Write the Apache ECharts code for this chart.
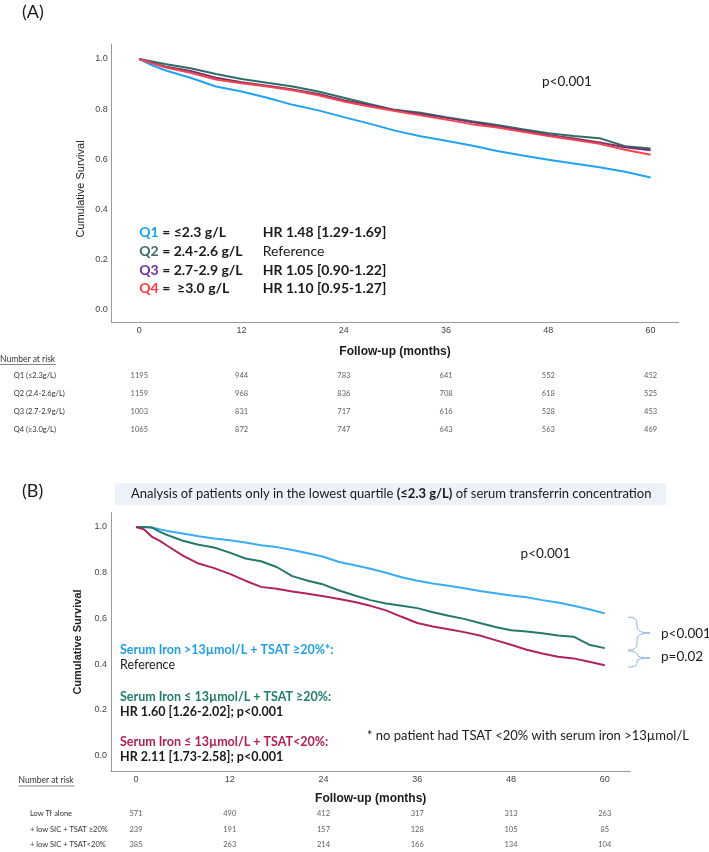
<!DOCTYPE html>
<html><head><meta charset="utf-8">
<script src="https://cdn.jsdelivr.net/npm/echarts@6.0.0/dist/echarts.min.js"></script>
<style>html,body{margin:0;padding:0;background:#fff}#c{width:709px;height:852px}</style>
</head><body><div id="c"></div>
<script>
// ---------- DATA ----------
const ticksX = [0, 12, 24, 36, 48, 60];
const ticksY = [0, 0.2, 0.4, 0.6, 0.8, 1.0];

// Panel A: survival by transferrin quartile
const timeA = [0,1.5,3,6,9,12,15,18,21,24,27,30,33,36,39,42,45,48,51,54,57,60];
const q1 = [1.0,0.975,0.955,0.925,0.89,0.87,0.845,0.817,0.795,0.768,0.742,0.714,0.692,0.674,0.655,0.633,0.615,0.598,0.583,0.568,0.55,0.527];
const q2 = [1.0,0.99,0.98,0.963,0.94,0.92,0.905,0.89,0.87,0.845,0.82,0.797,0.785,0.768,0.752,0.737,0.72,0.704,0.693,0.684,0.652,0.643];
const q3 = [1.0,0.985,0.97,0.952,0.925,0.907,0.893,0.878,0.86,0.835,0.815,0.795,0.78,0.765,0.748,0.732,0.715,0.697,0.683,0.667,0.648,0.636];
const q4 = [1.0,0.983,0.967,0.945,0.918,0.903,0.89,0.875,0.855,0.83,0.81,0.792,0.775,0.758,0.74,0.727,0.71,0.693,0.678,0.662,0.638,0.618];

const riskRowsA = ['Q1 (≤2.3g/L)', 'Q2 (2.4-2.6g/L)', 'Q3 (2.7-2.9g/L)', 'Q4 (≥3.0g/L)'];
const riskQ1 = [1195, 944, 783, 641, 552, 452];
const riskQ2 = [1159, 968, 836, 708, 618, 525];
const riskQ3 = [1003, 831, 717, 616, 528, 453];
const riskQ4 = [1065, 872, 747, 643, 563, 469];

// Panel B: lowest quartile only
const timeB = [0,1,2,3,4,6,8,10,12,14,16,18,20,22,24,26,28,30,32,34,36,38,40,42,44,46,48,50,52,54,56,58,60];
const blueB  = [1.0,1.0,0.998,0.99,0.983,0.972,0.96,0.95,0.942,0.932,0.92,0.912,0.899,0.885,0.87,0.847,0.833,0.817,0.8,0.78,0.765,0.753,0.743,0.732,0.72,0.71,0.7,0.693,0.68,0.67,0.655,0.64,0.622];
const greenB = [1.0,1.0,0.998,0.98,0.965,0.94,0.922,0.91,0.888,0.862,0.85,0.825,0.785,0.765,0.748,0.722,0.7,0.68,0.665,0.655,0.645,0.627,0.612,0.598,0.58,0.562,0.548,0.543,0.535,0.525,0.52,0.485,0.47];
const magB   = [1.0,0.99,0.958,0.94,0.918,0.875,0.84,0.82,0.795,0.765,0.738,0.73,0.718,0.708,0.697,0.685,0.672,0.655,0.635,0.607,0.58,0.565,0.553,0.54,0.525,0.505,0.485,0.463,0.446,0.432,0.425,0.41,0.395];

const riskRowsB = ['Low Tf alone', '+ low SIC + TSAT ≥20%', '+ low SIC + TSAT<20%'];
const riskLow = [571, 490, 412, 317, 313, 263];
const riskSicHi = [239, 191, 157, 128, 105, 85];
const riskSicLo = [385, 263, 214, 166, 134, 104];

// ---------- STYLE ----------
const AX = '#9a9a9a';
const CAL = 'Lato, "Open Sans", sans-serif';
const ARI = '"Liberation Sans", Arial, sans-serif';
const C = {q1:'#22a2f0', q2:'#2f6f63', q3:'#7a2f72', q4:'#f2454f',
           bB:'#3aacf2', gB:'#24796b', mB:'#b0245e',
           tq1:'#1aa0ee', tq2:'#3c6a63', tq3:'#7030a0', tq4:'#ff3b3b',
           tb:'#1e9fe6', tg:'#1f7d6c', tm:'#b01e52'};

const chart = echarts.init(document.getElementById('c'), null, {renderer:'canvas'});

function xAx(gi, min, max, show) {
  return {type:'value', gridIndex:gi, min:min, max:max, show:show,
    axisLine:{show:true, onZero:false, lineStyle:{color:AX, width:1}},
    axisTick:{show:false},
    splitLine:{show:false},
    axisLabel:{show:true, customValues:ticksX, margin:4, fontSize:9, color:'#444', fontFamily:ARI}};
}
function yAx(gi, min, max) {
  return {type:'value', gridIndex:gi, min:min, max:max,
    axisLine:{show:true, onZero:false, lineStyle:{color:AX, width:1}},
    axisTick:{show:false},
    splitLine:{show:false},
    axisLabel:{customValues:ticksY, margin:4, fontSize:9, color:'#444', fontFamily:ARI,
      formatter:v=>v.toFixed(1)}};
}
function line(xi, t, v, color, w) {
  return {type:'line', xAxisIndex:xi, yAxisIndex:xi, data:t.map((m,i)=>[m, v[i]]),
    showSymbol:false, symbol:'none', lineStyle:{color:color, width:w||2}, silent:true};
}
function riskSeries(xi, rows) {
  const d = [];
  rows.forEach((r, ri) => r.forEach((n, k) => d.push([ticksX[k], ri, n])));
  return {type:'scatter', xAxisIndex:xi, yAxisIndex:xi, symbolSize:0, data:d, silent:true,
    label:{show:true, position:'inside', formatter:p=>p.value[2], fontSize:7.5, color:'#333', fontFamily:CAL}};
}

const tx = (x, y, text, o) => Object.assign({type:'text', x:x, y:y, silent:true,
  style:Object.assign({text:text, fill:'#1a1a1a', font:'13px '+CAL, align:'left', verticalAlign:'middle',
   textAlign:'left', textVerticalAlign:'middle'}, o||{})});

function legendRowA(y, tag, col, desc, hr, hrBold) {
  return [
    tx(139.3, y, '{a|'+tag+'}{b|'+desc+'}', {rich:{
      a:{fill:col, font:'bold 14px '+CAL}, b:{fill:'#1a1a1a', font:'bold 14px '+CAL}}}),
    tx(262.7, y, hr, {font:(hrBold?'bold ':'')+'14px '+CAL})
  ];
}
const BR = '#8eb4e3';
function brace(x0, xm, tip, yTop, yMid, yBot) {
  const st = {stroke:BR, lineWidth:1, fill:null};
  const r = Math.min(6, (yMid - yTop) / 2);
  const b = (x1,y1,cx,cy,x2,y2) => ({type:'bezierCurve', silent:true, shape:{x1:x1,y1:y1,cpx1:cx,cpy1:cy,x2:x2,y2:y2}, style:st});
  const l = (x1,y1,x2,y2) => ({type:'line', silent:true, shape:{x1:x1,y1:y1,x2:x2,y2:y2}, style:st});
  return [
    b(x0, yTop, xm, yTop, xm, yTop + r),
    l(xm, yTop + r, xm, yMid - r),
    b(xm, yMid - r, xm, yMid, tip, yMid),
    b(tip, yMid, xm, yMid, xm, yMid + r),
    l(xm, yMid + r, xm, yBot - r),
    b(xm, yBot - r, xm, yBot, x0, yBot)
  ];
}

const graphic = [
  tx(22, 12, '(A)', {font:'18px '+CAL}),
  tx(542, 82, 'p<0.001', {font:'13.5px '+CAL}),
  ...legendRowA(232.7, 'Q1', C.tq1, ' = ≤2.3 g/L', 'HR 1.48 [1.29-1.69]', true),
  ...legendRowA(251.3, 'Q2', C.tq2, ' = 2.4-2.6 g/L', 'Reference', false),
  ...legendRowA(270, 'Q3', C.tq3, ' = 2.7-2.9 g/L', 'HR 1.05 [0.90-1.22]', true),
  ...legendRowA(288.3, 'Q4', C.tq4, ' =  ≥3.0 g/L', 'HR 1.10 [0.95-1.27]', true),
  {type:'text', x:80.5, y:189, rotation:Math.PI/2, silent:true,
   style:{text:'Cumulative Survival', font:'11px '+ARI, fill:'#222', align:'center', verticalAlign:'middle', textAlign:'center', textVerticalAlign:'middle'}},
  tx(395, 351.7, 'Follow-up (months)', {font:'bold 12px '+ARI, align:'center', textAlign:'center'}),
  tx(0, 359.3, 'Number at risk', {font:'8.5px '+CAL, fill:'#333'}),
  {type:'line', silent:true, shape:{x1:0, y1:364.5, x2:56, y2:364.5}, style:{stroke:'#555', lineWidth:0.7}},

  tx(22, 491, '(B)', {font:'18px '+CAL}),
  {type:'rect', silent:true, shape:{x:115, y:483.3, width:551, height:21.7}, style:{fill:'#edf2fa'}},
  tx(131, 494, '{n|Analysis of patients only in the lowest quartile }{b|(≤2.3 g/L)}{n| of serum transferrin concentration}',
     {rich:{n:{font:'13px '+CAL, fill:'#1a1a1a'}, b:{font:'bold 13px '+CAL, fill:'#1a1a1a'}}}),
  tx(520.6, 553.3, 'p<0.001', {font:'13.5px '+CAL}),
  {type:'text', x:78, y:642, rotation:Math.PI/2, silent:true,
   style:{text:'Cumulative Survival', font:'bold 11px '+ARI, fill:'#222', align:'center', verticalAlign:'middle', textAlign:'center', textVerticalAlign:'middle'}},
  tx(120, 650, 'Serum Iron >13µmol/L + TSAT ≥20%*:', {font:'bold 12.5px '+CAL, fill:C.tb}),
  tx(120, 665, 'Reference', {font:'12.5px '+CAL}),
  tx(120, 696.7, 'Serum Iron ≤ 13µmol/L + TSAT ≥20%:', {font:'bold 12.5px '+CAL, fill:C.tg}),
  tx(120, 711.7, 'HR 1.60 [1.26-2.02]; p<0.001', {font:'bold 12.5px '+CAL}),
  tx(120, 742.3, 'Serum Iron ≤ 13µmol/L + TSAT<20%:', {font:'bold 12.5px '+CAL, fill:C.tm}),
  tx(120, 757.3, 'HR 2.11 [1.73-2.58]; p<0.001', {font:'bold 12.5px '+CAL}),
  tx(367, 736, '* no patient had TSAT <20% with serum iron >13µmol/L', {font:'13px '+CAL}),
  ...brace(628, 637, 650, 617, 633, 650),
  ...brace(628, 637, 650, 651, 658, 667),
  tx(661, 634, 'p<0.001', {font:'13.5px '+CAL}),
  tx(661, 657, 'p=0.02', {font:'13.5px '+CAL}),
  tx(370.7, 798.3, 'Follow-up (months)', {font:'bold 12px '+ARI, align:'center', textAlign:'center'}),
  tx(18.5, 780.7, 'Number at risk', {font:'8.5px '+CAL, fill:'#333'}),
  {type:'line', silent:true, shape:{x1:18.5, y1:786, x2:74.5, y2:786}, style:{stroke:'#555', lineWidth:0.7}}
];

const catY = (gi, rows, margin) => ({type:'category', gridIndex:gi, data:rows, inverse:true,
  axisLine:{show:false}, axisTick:{show:false}, splitLine:{show:false},
  axisLabel:{align:'left', margin:margin, fontSize:7.5, color:'#333', fontFamily:CAL}});
const hiddenX = (gi, min, max) => ({type:'value', gridIndex:gi, min:min, max:max, show:false});

chart.setOption({
  animation:false,
  backgroundColor:'#fff',
  grid:[
    {left:111.7, top:44, width:567, height:278.3},
    {left:111, top:512.7, width:519.5, height:258.8},
    {left:111.7, top:367, width:567, height:72},
    {left:111, top:806.4, width:519.5, height:51.6}
  ],
  xAxis:[xAx(0, -3.24, 63.3, true), xAx(1, -3.2, 63.29, true), hiddenX(2, -3.24, 63.3), hiddenX(3, -3.2, 63.29)],
  yAxis:[yAx(0, -0.0511, 1.0599), yAx(1, -0.070, 1.0626), catY(2, riskRowsA, 98), catY(3, riskRowsB, 81)],
  series:[
    line(0, timeA, q1, C.q1), line(0, timeA, q2, C.q2), line(0, timeA, q3, C.q3), line(0, timeA, q4, C.q4),
    line(1, timeB, blueB, C.bB), line(1, timeB, greenB, C.gB), line(1, timeB, magB, C.mB),
    riskSeries(2, [riskQ1, riskQ2, riskQ3, riskQ4]),
    riskSeries(3, [riskLow, riskSicHi, riskSicLo])
  ],
  graphic:graphic
});
</script></body></html>
